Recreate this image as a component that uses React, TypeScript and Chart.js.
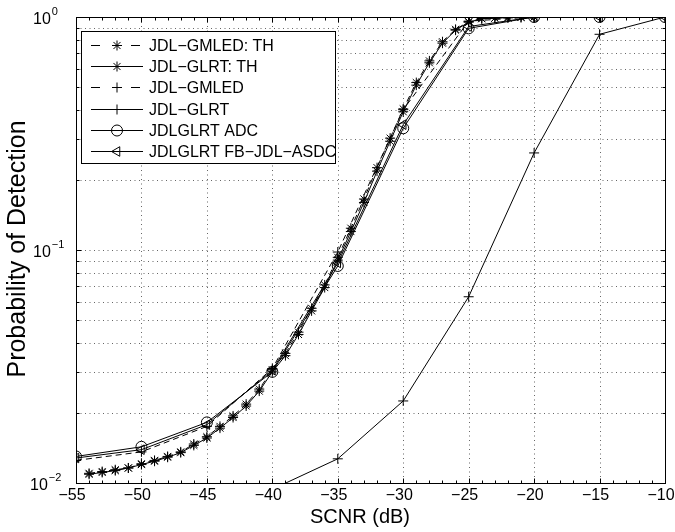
import React, { useEffect, useRef } from 'react';
import { Chart, registerables } from 'chart.js';

Chart.register(...registerables);

// ---------------- data ----------------
const snrTH = [
  -54, -53, -52, -51, -50, -49, -48, -47, -46, -45, -44, -43, -42, -41, -40, -39, -38,
  -37, -36, -35, -34, -33, -32, -31, -30, -29, -28, -27, -26, -25, -24, -23, -22, -21, -20,
];
const pdGmledTH = [
  0.0110, 0.0112, 0.0114, 0.0116, 0.0121, 0.0125, 0.0130, 0.0136, 0.0147, 0.0158, 0.0175,
  0.0194, 0.0218, 0.0253, 0.0306, 0.0360, 0.0444, 0.0562, 0.0708, 0.0930, 0.124, 0.1655,
  0.2256, 0.302, 0.403, 0.523, 0.648, 0.783, 0.885, 0.955, 0.985, 0.990, 0.994, 0.997, 1.0,
];
const pdGlrtTH = [
  0.0109, 0.0111, 0.0113, 0.0116, 0.0120, 0.0124, 0.0129, 0.0135, 0.0145, 0.0156, 0.0172,
  0.0191, 0.0214, 0.0248, 0.0300, 0.0352, 0.0434, 0.0548, 0.0690, 0.0905, 0.120, 0.160,
  0.218, 0.293, 0.392, 0.510, 0.636, 0.772, 0.878, 0.950, 0.983, 0.989, 0.993, 0.996, 1.0,
];
const snr5 = [-55, -50, -45, -40, -35, -30, -25, -20, -15, -10];
const pdGmled = [0.0125, 0.0136, 0.0175, 0.0310, 0.0980, 0.400, 0.960, 1.0, 1.0, 1.0];
const pdAdc = [0.0130, 0.0143, 0.0182, 0.0300, 0.0854, 0.333, 0.894, 1.0, 1.0, 1.0];
const pdFb = [0.0128, 0.0139, 0.0178, 0.0305, 0.0880, 0.345, 0.910, 1.0, 1.0, 1.0];
const snrGlrt = [-40, -35, -30, -25, -20, -15, -10];
const pdGlrt = [0.0094, 0.0127, 0.0225, 0.063, 0.261, 0.843, 1.0];

const xTickValues = [-55, -50, -45, -40, -35, -30, -25, -20, -15, -10];
const xTickLabels = ['−55', '−50', '−45', '−40', '−35', '−30', '−25', '−20', '−15', '−10'];
const yDecades = [1, 0.1, 0.01];
const yExponents = ['0', '−1', '−2'];
const yMinorSteps = [2, 3, 4, 5, 6, 7, 8, 9];

const seriesNames = [
  'JDL−GMLED: TH',
  'JDL−GLRT: TH',
  'JDL−GMLED',
  'JDL−GLRT',
  'JDLGLRT ADC',
  'JDLGLRT FB−JDL−ASDC',
];
const xTitle = 'SCNR (dB)';
const yTitle = 'Probability of Detection';

const FONT = "'Liberation Sans', Arial, Helvetica, sans-serif";

const pts = (xs: number[], ys: number[]) => xs.map((x, i) => ({ x, y: ys[i] }));

// ---------------- drawing helpers ----------------
function drawMarker(ctx: CanvasRenderingContext2D, kind: string, x: number, y: number) {
  ctx.save();
  ctx.setLineDash([]);
  ctx.strokeStyle = '#000';
  ctx.lineWidth = 1;
  ctx.beginPath();
  if (kind === 'star') {
    const r = 5;
    const d = r * Math.SQRT1_2;
    ctx.moveTo(x - r, y); ctx.lineTo(x + r, y);
    ctx.moveTo(x, y - r); ctx.lineTo(x, y + r);
    ctx.moveTo(x - d, y - d); ctx.lineTo(x + d, y + d);
    ctx.moveTo(x - d, y + d); ctx.lineTo(x + d, y - d);
  } else if (kind === 'cross') {
    const r = 5;
    ctx.moveTo(x - r, y); ctx.lineTo(x + r, y);
    ctx.moveTo(x, y - r); ctx.lineTo(x, y + r);
  } else if (kind === 'circle') {
    ctx.arc(x, y, 5.5, 0, Math.PI * 2);
  } else if (kind === 'triangle') {
    const r = 5.5;
    ctx.moveTo(x - r, y);
    ctx.lineTo(x + r * 0.5, y - r * 0.87);
    ctx.lineTo(x + r * 0.5, y + r * 0.87);
    ctx.closePath();
  }
  ctx.stroke();
  ctx.restore();
}

const legendStyles = [
  { dashed: true, marker: 'star' },
  { dashed: false, marker: 'star' },
  { dashed: true, marker: 'cross' },
  { dashed: false, marker: 'cross' },
  { dashed: false, marker: 'circle' },
  { dashed: false, marker: 'triangle' },
];

const matlabPlugin = {
  id: 'matlabAxes',
  beforeDatasetsDraw(chart: any) {
    const { ctx, chartArea: a, scales } = chart;
    const xs = scales.x;
    const ys = scales.y;
    ctx.save();
    ctx.strokeStyle = 'rgba(0,0,0,0.6)';
    ctx.lineWidth = 1;
    ctx.setLineDash([1, 3.5]);
    ctx.beginPath();
    for (const t of xTickValues) {
      const px = Math.round(xs.getPixelForValue(t)) + 0.5;
      ctx.moveTo(px, a.top);
      ctx.lineTo(px, a.bottom);
    }
    for (const d of [0.01, 0.1]) {
      for (const m of [1, ...yMinorSteps]) {
        const py = Math.round(ys.getPixelForValue(d * m)) + 0.5;
        ctx.moveTo(a.left, py);
        ctx.lineTo(a.right, py);
      }
    }
    ctx.stroke();
    ctx.restore();
  },
  afterDatasetsDraw(chart: any) {
    const { ctx, chartArea: a, scales } = chart;
    const xs = scales.x;
    const ys = scales.y;
    const L = Math.round(a.left) + 0.5;
    const R = Math.round(a.right) + 0.5;
    const T = Math.round(a.top) + 0.5;
    const B = Math.round(a.bottom) + 0.5;
    ctx.save();
    ctx.strokeStyle = '#000';
    ctx.lineWidth = 1;
    ctx.setLineDash([]);
    ctx.beginPath();
    // x ticks (major every 5, minor every 1)
    for (let v = -55; v <= -10; v += 1) {
      const px = Math.round(xs.getPixelForValue(v)) + 0.5;
      const len = v % 5 === 0 ? 5 : 3;
      ctx.moveTo(px, B); ctx.lineTo(px, B - len);
      ctx.moveTo(px, T); ctx.lineTo(px, T + len);
    }
    // y ticks
    for (const d of [0.01, 0.1]) {
      for (const m of [1, ...yMinorSteps]) {
        const py = Math.round(ys.getPixelForValue(d * m)) + 0.5;
        const len = m === 1 ? 5 : 3;
        ctx.moveTo(L, py); ctx.lineTo(L + len, py);
        ctx.moveTo(R, py); ctx.lineTo(R - len, py);
      }
    }
    ctx.stroke();
    ctx.strokeRect(L, T, R - L, B - T);
    ctx.restore();
  },
  afterDraw(chart: any) {
    const { ctx, chartArea: a, scales } = chart;
    const xs = scales.x;
    const ys = scales.y;
    ctx.save();
    ctx.fillStyle = '#000';
    // x tick labels
    ctx.font = `16px ${FONT}`;
    ctx.textAlign = 'center';
    ctx.textBaseline = 'middle';
    xTickValues.forEach((v, i) => {
      ctx.fillText(xTickLabels[i], xs.getPixelForValue(v) - 4, a.bottom + 13);
    });
    // y tick labels 10^n
    const yLeft = [33, 33, 30];
    yDecades.forEach((d, i) => {
      const py = ys.getPixelForValue(d);
      ctx.font = `16px ${FONT}`;
      ctx.textAlign = 'left';
      ctx.textBaseline = 'middle';
      ctx.fillText('10', yLeft[i], py + 3);
      const w = ctx.measureText('10').width;
      ctx.font = `11px ${FONT}`;
      ctx.fillText(yExponents[i], yLeft[i] + w + 1, py - 5);
    });
    // titles
    ctx.font = `20px ${FONT}`;
    ctx.textAlign = 'center';
    ctx.textBaseline = 'middle';
    ctx.fillText(xTitle, 360, 517);
    ctx.save();
    ctx.font = `25px ${FONT}`;
    ctx.translate(18, 249);
    ctx.rotate(-Math.PI / 2);
    ctx.fillText(yTitle, 0, 0);
    ctx.restore();

    // legend
    const bx = 81.5, by = 31.5, bw = 254, bh = 132;
    ctx.fillStyle = '#fff';
    ctx.fillRect(bx, by, bw, bh);
    ctx.strokeStyle = '#000';
    ctx.lineWidth = 1;
    ctx.setLineDash([]);
    ctx.strokeRect(bx, by, bw, bh);
    ctx.fillStyle = '#000';
    ctx.font = `16px ${FONT}`;
    ctx.textAlign = 'left';
    ctx.textBaseline = 'middle';
    seriesNames.forEach((name, i) => {
      const cy = Math.round(45 + i * 21.2) + 0.5;
      const st = legendStyles[i];
      ctx.beginPath();
      if (st.dashed) {
        ctx.moveTo(91, cy); ctx.lineTo(100, cy);
        ctx.moveTo(131, cy); ctx.lineTo(140, cy);
      } else {
        ctx.moveTo(91, cy); ctx.lineTo(143, cy);
      }
      ctx.stroke();
      drawMarker(ctx, st.marker, 117, cy);
      ctx.fillText(name, 149, cy + 1);
    });
    ctx.restore();
  },
};

export default function App() {
  const ref = useRef<HTMLCanvasElement | null>(null);
  useEffect(() => {
    document.body.style.margin = '0';
    const canvas = ref.current;
    if (!canvas) return;
    const common = {
      borderColor: '#000',
      backgroundColor: 'transparent',
      borderWidth: 1,
      pointBorderColor: '#000',
      pointBackgroundColor: 'transparent',
      pointBorderWidth: 1,
      tension: 0,
      fill: false,
    };
    const chart = new Chart(canvas, {
      type: 'line',
      data: {
        datasets: [
          { ...common, label: seriesNames[0], data: pts(snrTH, pdGmledTH), borderDash: [6, 4], pointStyle: 'star', pointRadius: 5 },
          { ...common, label: seriesNames[1], data: pts(snrTH, pdGlrtTH), pointStyle: 'star', pointRadius: 5 },
          { ...common, label: seriesNames[2], data: pts(snr5, pdGmled), borderDash: [6, 4], pointStyle: 'cross', pointRadius: 5 },
          { ...common, label: seriesNames[3], data: pts(snrGlrt, pdGlrt), pointStyle: 'cross', pointRadius: 5 },
          { ...common, label: seriesNames[4], data: pts(snr5, pdAdc), pointStyle: 'circle', pointRadius: 5.5 },
          { ...common, label: seriesNames[5], data: pts(snr5, pdFb), pointStyle: 'triangle', pointRotation: -90, pointRadius: 5.5 },
        ] as any,
      },
      options: {
        responsive: false,
        animation: false,
        devicePixelRatio: 1,
        events: [],
        layout: { padding: { left: 76, top: 17, right: 10, bottom: 49 } },
        scales: {
          x: { type: 'linear', min: -55, max: -10, display: false },
          y: { type: 'logarithmic', min: 0.01, max: 1, display: false },
        },
        plugins: { legend: { display: false }, tooltip: { enabled: false }, title: { display: false } },
      } as any,
      plugins: [matlabPlugin],
    });
    return () => chart.destroy();
  }, []);
  return (
    <div style={{ width: 675, height: 532, background: '#fff' }}>
      <canvas ref={ref} width={675} height={532} style={{ display: 'block' }} />
    </div>
  );
}
